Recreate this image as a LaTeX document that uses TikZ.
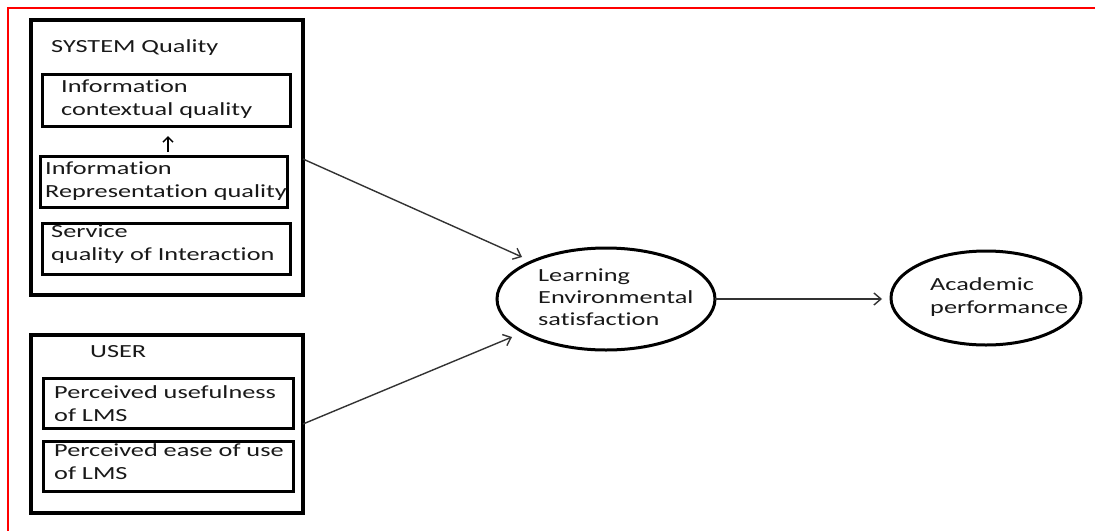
\documentclass[tikz,border=0pt]{standalone}
\usepackage{fontspec}
\setmainfont{Carlito}[FakeStretch=1.42,Ligatures={NoCommon}]
\usetikzlibrary{arrows.meta,shapes.geometric}
\begin{document}
\begin{tikzpicture}[x=1pt,y=-1pt,
  box/.style={draw,line width=3.2pt,anchor=north west,inner sep=0pt,outer sep=0pt},
  inbox/.style={draw,line width=3pt,anchor=north west,inner sep=0pt,outer sep=0pt},
  lbl/.style={anchor=base west,inner sep=0pt,font=\fontsize{18.5}{23}\selectfont,text=black!90},
  oval/.style={draw,line width=3pt,ellipse,inner sep=0pt},
  conn/.style={line width=1.4pt,draw=black!80,-{Straight Barb[length=7pt,width=12pt,line width=1.4pt]}},
  redline/.style={draw=red,line width=2pt}]
\useasboundingbox (0,0) rectangle (1095,531);
\fill[white] (0,0) rectangle (1095,531);
\coordinate (rtl) at (8,8);
\coordinate (rtr) at (1095,8);
\coordinate (rbl) at (8,531);
\draw[redline] (rtr) -- (rtl) -- (rbl);
% system box
\node[box,minimum width=272pt,minimum height=275pt] (sys) at (31,20) {};
\node[lbl] (systxt) at (51,52) {SYSTEM Quality};
\node[inbox,minimum width=248pt,minimum height=52pt] (b1) at (42,74) {};
\node[lbl] (b1a) at (61,92) {Information};
\node[lbl] (b1b) at (61,115) {contextual quality};
\node[inbox,minimum width=247pt,minimum height=51pt] (b2) at (40,156) {};
\node[lbl] (b2a) at (45,174) {Information};
\node[lbl] (b2b) at (45,197) {Representation quality};
\node[inbox,minimum width=248pt,minimum height=51pt] (b3) at (42,223) {};
\node[lbl] (b3a) at (51,237) {Service};
\node[lbl] (b3b) at (51,260) {quality of Interaction};
\coordinate (ua) at (168,152);
\coordinate (ub) at (168,136);
\draw[conn,draw=black,-{Straight Barb[length=5pt,width=10pt,line width=1.5pt]}] (ua) -- (ub);
% user box
\node[box,minimum width=272pt,minimum height=178pt] (user) at (31,335) {};
\node[lbl] (usertxt) at (90,357) {USER};
\node[inbox,minimum width=250pt,minimum height=50pt] (b4) at (43,378) {};
\node[lbl] (b4a) at (54,398) {Perceived usefulness};
\node[lbl] (b4b) at (54,421) {of LMS};
\node[inbox,minimum width=250pt,minimum height=50pt] (b5) at (43,441) {};
\node[lbl] (b5a) at (54,456) {Perceived ease of use};
\node[lbl] (b5b) at (54,479) {of LMS};
% ellipses
\node[oval,minimum width=218pt,minimum height=102pt] (les) at (606,299) {};
\node[lbl] (l1) at (538,281) {Learning};
\node[lbl] (l2) at (538,303) {Environmental};
\node[lbl] (l3) at (538,325) {satisfaction};
\node[oval,minimum width=190pt,minimum height=94pt] (ap) at (986,298) {};
\node[lbl] (a1) at (930,290) {Academic};
\node[lbl] (a2) at (930,313) {performance};
% connectors
\coordinate (s1) at (303,159);
\coordinate (e1) at (522,257);
\coordinate (s2) at (303,424);
\coordinate (e2) at (512,337);
\coordinate (s3) at (715,299);
\coordinate (e3) at (882,299);
\draw[conn] (s1) -- (e1);
\draw[conn] (s2) -- (e2);
\draw[conn] (s3) -- (e3);
\end{tikzpicture}
\end{document}
